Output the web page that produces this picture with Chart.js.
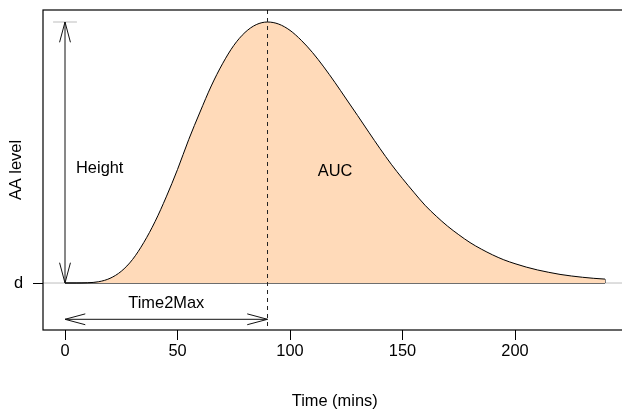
<!DOCTYPE html>
<html><head><meta charset="utf-8">
<script src="https://cdn.jsdelivr.net/npm/chart.js@4"></script>
<style>
html,body{margin:0;padding:0;overflow:hidden;background:#fff}
#wrap{width:622px;height:413px;overflow:hidden;position:relative}
canvas{display:block}
</style>
</head><body>
<div id="wrap"><canvas id="c" width="640" height="413"></canvas></div>
<script>
// ---- data ----
const timeMins = [0,5,10,15,20,25,30,35,40,45,50,55,60,65,70,75,80,85,90,95,100,105,110,115,120,125,130,135,140,145,150,155,160,165,170,175,180,185,190,195,200,205,210,215,220,225,230,235,240];
const aaLevel = [0,0,0.001,0.005,0.018,0.045,0.09,0.155,0.235,0.33,0.435,0.55,0.655,0.755,0.84,0.91,0.96,0.99,1.0,0.992,0.968,0.93,0.883,0.828,0.768,0.705,0.642,0.578,0.515,0.455,0.40,0.348,0.298,0.256,0.218,0.185,0.155,0.13,0.108,0.089,0.074,0.061,0.05,0.041,0.033,0.027,0.022,0.018,0.015];
const baselineLevel = 0;
const xTickValues = [0,50,100,150,200];
const yTickValues = [0];
const yTickLabels = ['d'];
const xTitle = 'Time (mins)';
const yTitle = 'AA level';
const annotationTexts = ['Height','AUC','Time2Max'];

// ---- annotation placement (data units) ----
const heightTextAt = [4.9, 0.44];
const aucTextAt = [120, 0.428];
const t2mTextAt = [45, -0.078];
const t2mArrowLevel = -0.139;
const peakMarkHalfWidth = 5.3;

const FONT_FAMILY = '"Liberation Sans", Arial, Helvetica, sans-serif';
const FONT_SIZE = 16.4;

let peakIdx = 0;
aaLevel.forEach((v,i)=>{ if (v > aaLevel[peakIdx]) peakIdx = i; });
const peakTime = timeMins[peakIdx];
const peakLevel = aaLevel[peakIdx];
const lastIdx = timeMins.length - 1;

const curvePoints = timeMins.map((t,i)=>({x:t, y:aaLevel[i]}));
const closingPoints = [
  {x: timeMins[0], y: baselineLevel},
  {x: timeMins[lastIdx], y: baselineLevel},
  {x: timeMins[lastIdx], y: aaLevel[lastIdx]}
];

function drawArrow(ctx, x1, y1, x2, y2) {
  const len = 21, ang = 15 * Math.PI / 180;
  ctx.beginPath();
  ctx.moveTo(x1, y1); ctx.lineTo(x2, y2);
  const heads = [[x2,y2,x1,y1],[x1,y1,x2,y2]];
  for (const [tx,ty,fx,fy] of heads) {
    const th = Math.atan2(ty - fy, tx - fx);
    ctx.moveTo(tx - len*Math.cos(th - ang), ty - len*Math.sin(th - ang));
    ctx.lineTo(tx, ty);
    ctx.lineTo(tx - len*Math.cos(th + ang), ty - len*Math.sin(th + ang));
  }
  ctx.stroke();
}

const overlay = {
  id: 'overlay',
  beforeDatasetsDraw(chart) {
    const {ctx, chartArea: a, scales: {x, y}} = chart;
    ctx.save();
    ctx.lineWidth = 1;
    ctx.strokeStyle = '#bdbdbd';
    const yb = y.getPixelForValue(baselineLevel);
    ctx.beginPath(); ctx.moveTo(a.left, yb); ctx.lineTo(a.right, yb); ctx.stroke();
    const yp = y.getPixelForValue(peakLevel);
    ctx.beginPath();
    ctx.moveTo(x.getPixelForValue(-peakMarkHalfWidth), yp);
    ctx.lineTo(x.getPixelForValue(peakMarkHalfWidth), yp);
    ctx.stroke();
    ctx.restore();
  },
  afterDatasetsDraw(chart) {
    const {ctx, chartArea: a, scales: {x, y}} = chart;
    ctx.save();
    ctx.strokeStyle = '#222';
    ctx.lineWidth = 1;
    ctx.setLineDash([4,4]);
    const xp = x.getPixelForValue(peakTime);
    ctx.beginPath(); ctx.moveTo(xp, a.top); ctx.lineTo(xp, a.bottom); ctx.stroke();
    ctx.setLineDash([]);
    ctx.strokeStyle = '#111';
    const x0 = x.getPixelForValue(timeMins[0]);
    drawArrow(ctx, x0, y.getPixelForValue(baselineLevel), x0, y.getPixelForValue(peakLevel));
    const ya = y.getPixelForValue(t2mArrowLevel);
    drawArrow(ctx, x0, ya, xp, ya);
    ctx.fillStyle = '#000';
    ctx.font = FONT_SIZE + 'px ' + FONT_FAMILY;
    ctx.textBaseline = 'middle';
    ctx.textAlign = 'left';
    ctx.fillText(annotationTexts[0], x.getPixelForValue(heightTextAt[0]), y.getPixelForValue(heightTextAt[1]));
    ctx.textAlign = 'center';
    ctx.fillText(annotationTexts[1], x.getPixelForValue(aucTextAt[0]), y.getPixelForValue(aucTextAt[1]));
    ctx.fillText(annotationTexts[2], x.getPixelForValue(t2mTextAt[0]), y.getPixelForValue(t2mTextAt[1]));
    ctx.strokeStyle = '#000';
    ctx.lineWidth = 1.2;
    ctx.strokeRect(a.left, a.top, a.right - a.left, a.bottom - a.top);
    ctx.restore();
  }
};

new Chart(document.getElementById('c'), {
  type: 'line',
  data: {
    datasets: [
      {
        data: curvePoints,
        borderColor: '#000',
        borderWidth: 1,
        backgroundColor: '#FFDAB9',
        fill: 'origin',
        pointRadius: 0,
        cubicInterpolationMode: 'monotone'
      },
      {
        data: closingPoints,
        borderColor: '#000',
        borderWidth: 1,
        fill: false,
        pointRadius: 0,
        tension: 0
      }
    ]
  },
  options: {
    responsive: false,
    animation: false,
    events: [],
    layout: { padding: { left: 0, top: 10, right: 13.6, bottom: 0 } },
    plugins: { legend: { display: false }, tooltip: { enabled: false } },
    scales: {
      x: {
        type: 'linear',
        min: -9.78, max: 249.5,
        afterBuildTicks: s => { s.ticks = xTickValues.map(v => ({value: v})); },
        afterFit: s => { s.height = 83; s.paddingLeft = 0; s.paddingRight = 0; },
        ticks: { autoSkip: false, maxRotation: 0, padding: 2, color: '#000',
                 font: { family: FONT_FAMILY, size: FONT_SIZE },
                 callback: v => String(v) },
        grid: { drawOnChartArea: false, drawTicks: true, tickLength: 10, color: '#000', lineWidth: 1 },
        border: { display: false },
        title: { display: true, text: xTitle, color: '#000',
                 font: { family: FONT_FAMILY, size: FONT_SIZE },
                 padding: { top: 0, bottom: 1.4 } }
      },
      y: {
        type: 'linear',
        min: -0.180, max: 1.046,
        afterBuildTicks: s => { s.ticks = yTickValues.map(v => ({value: v})); },
        afterFit: s => { s.width = 43; s.paddingTop = 0; s.paddingBottom = 0; },
        ticks: { autoSkip: false, padding: 10, color: '#000',
                 font: { family: FONT_FAMILY, size: FONT_SIZE },
                 callback: (v, i) => yTickLabels[i] },
        grid: { drawOnChartArea: false, drawTicks: true, tickLength: 10, color: '#000', lineWidth: 1 },
        border: { display: false },
        title: { display: true, text: yTitle, color: '#000',
                 font: { family: FONT_FAMILY, size: FONT_SIZE },
                 padding: { top: 7, bottom: 0 } }
      }
    }
  },
  plugins: [overlay]
});
</script>
</body></html>
